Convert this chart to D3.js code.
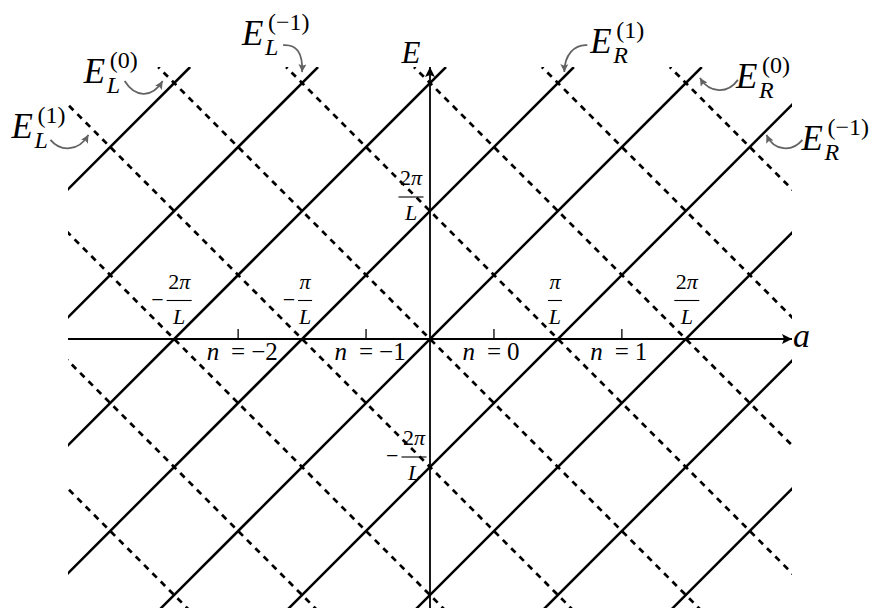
<!DOCTYPE html>
<html>
<head>
<meta charset="utf-8">
<script src="https://cdn.jsdelivr.net/npm/d3@7"></script>
<style>
  body { margin: 0; background: #fff; }
  svg { display: block; }
  svg text { font-family: "Liberation Serif", "DejaVu Serif", serif; fill: #000; }
  .it { font-style: italic; }
</style>
</head>
<body>
<svg width="876" height="608"></svg>
<script>
// shifts k in units of pi/L: solid lines E = 2(a - k), dashed lines E = -2(a - k)
const solidShifts = [-4, -3, -2, -1, 0, 1, 2, 3, 4];
const dashedShifts = [-4, -3, -2, -1, 0, 1, 2, 3, 4];
const aDomain = [-2.83, 2.83];
const eDomain = [-4.25, 4.25];

// labels on the a axis (where the lines cross it)
const aLabelVals = [-2, -1, 1, 2];
const aLabelNums = ["2", "", "", "2"];
const aLabelSigns = ["−", "−", "", ""];

// labels on the E axis
const eLabelVals = [2, -2];
const eLabelNums = ["2", "2"];
const eLabelSigns = ["", "−"];

// n markers half way between crossings
const nVals = [-1.5, -0.5, 0.5, 1.5];
const nLabels = ["−2", "−1", "0", "1"];

// branch annotations and the point (a, E) each arrow points at
const annSubs = ["L", "L", "L", "R", "R", "R"];
const annSups = ["(1)", "(0)", "(−1)", "(1)", "(0)", "(−1)"];
const annTips = [[-2.67, 3.19], [-2.09, 4.03], [-1.0, 4.17], [1.05, 4.17], [2.11, 4.08], [2.63, 3.19]];

// pixel offsets of text and curve relative to each arrow tip
const annLayout = [
  { text: [-77, 3],  curve: [[-38, 5], [-28, 17], [-10, 17]] },
  { text: [-79, 2],  curve: [[-38, 0], [-28, 16], [-11, 18]] },
  { text: [-60, -27], curve: [[-19, -27], [-6, -28], [1, -20]] },
  { text: [26, -19], curve: [[23, -27], [10, -28], [0, -17]] },
  { text: [36, 10],  curve: [[38, 2], [28, 16], [10, 16]] },
  { text: [35, 15],  curve: [[36, 5], [26, 17], [8, 17]] }
];
const aLabelDx = [5, 3, -3, 1];
const eLabelOff = [[-19, -14], [-16, -10]];

const svg = d3.select("svg");
const x = d3.scaleLinear().domain(aDomain).range([68, 792]);
const y = d3.scaleLinear().domain(eDomain).range([611, 67]);

const defs = svg.append("defs");
defs.append("clipPath").attr("id", "plot-clip")
  .append("rect")
  .attr("x", x(aDomain[0])).attr("y", y(eDomain[1]))
  .attr("width", x(aDomain[1]) - x(aDomain[0]))
  .attr("height", y(eDomain[0]) - y(eDomain[1]));

const addMarker = (id, color, w, h) => {
  defs.append("marker")
    .attr("id", id)
    .attr("viewBox", "0 0 10 10")
    .attr("refX", 10).attr("refY", 5)
    .attr("markerUnits", "userSpaceOnUse")
    .attr("markerWidth", w).attr("markerHeight", h)
    .attr("orient", "auto")
    .append("path")
    .attr("d", "M0,0 L10,5 L0,10 L2,5 z")
    .attr("fill", color);
};
addMarker("arrow-black", "#000", 11, 10);
addMarker("arrow-gray", "#636363", 9, 8);

const line = d3.line().x(d => x(d[0])).y(d => y(d[1]));

// axes
svg.append("path")
  .attr("d", line([[aDomain[0], 0], [aDomain[1], 0]]))
  .attr("stroke", "#000").attr("stroke-width", 1.8).attr("fill", "none")
  .attr("marker-end", "url(#arrow-black)");
svg.append("path")
  .attr("d", line([[0, eDomain[0]], [0, eDomain[1]]]))
  .attr("stroke", "#000").attr("stroke-width", 1.8).attr("fill", "none")
  .attr("marker-end", "url(#arrow-black)");

svg.append("text").attr("class", "it")
  .attr("x", x(aDomain[1]) + 1).attr("y", y(0) + 8)
  .attr("font-size", 34).text("a");
svg.append("text").attr("class", "it")
  .attr("x", x(0) - 19).attr("y", y(eDomain[1]) - 4)
  .attr("text-anchor", "middle")
  .attr("font-size", 31).text("E");

// branch lines
const lines = svg.append("g").attr("clip-path", "url(#plot-clip)");
lines.selectAll("path.solid")
  .data(solidShifts)
  .join("path")
  .attr("class", "solid")
  .attr("d", k => line(eDomain.map(e => [k + e / 2, e])))
  .attr("stroke", "#000").attr("stroke-width", 2.5).attr("fill", "none");
lines.selectAll("path.dashed")
  .data(dashedShifts)
  .join("path")
  .attr("class", "dashed")
  .attr("d", k => line(eDomain.map(e => [k - e / 2, e])))
  .attr("stroke", "#000").attr("stroke-width", 2.7).attr("fill", "none")
  .attr("stroke-dasharray", "6.2,5.6");

// fraction label  (sign) num pi / L
const drawFrac = (cx, barY, num, sign) => {
  const g = svg.append("g");
  const t = g.append("text")
    .attr("x", cx).attr("y", barY - 12)
    .attr("text-anchor", "middle")
    .attr("font-size", 22);
  if (num) t.append("tspan").text(num);
  t.append("tspan").attr("class", "it").text("π");
  const w = t.node().getComputedTextLength() + 3;
  g.append("line")
    .attr("x1", cx - w / 2).attr("x2", cx + w / 2)
    .attr("y1", barY).attr("y2", barY)
    .attr("stroke", "#000").attr("stroke-width", 1.1);
  g.append("text").attr("class", "it")
    .attr("x", cx).attr("y", barY + 23)
    .attr("text-anchor", "middle")
    .attr("font-size", 22).text("L");
  if (sign) {
    g.append("text")
      .attr("x", cx - w / 2 - 3).attr("y", barY + 6)
      .attr("text-anchor", "end")
      .attr("font-size", 22).text(sign);
  }
};

aLabelVals.forEach((v, i) => {
  drawFrac(x(v) + aLabelDx[i], y(0) - 38.5, aLabelNums[i], aLabelSigns[i]);
});
eLabelVals.forEach((v, i) => {
  drawFrac(x(0) + eLabelOff[i][0], y(v) + eLabelOff[i][1], eLabelNums[i], eLabelSigns[i]);
});

// n markers
const nG = svg.append("g");
nVals.forEach((v, i) => {
  const cx = x(v);
  nG.append("line")
    .attr("x1", cx).attr("x2", cx)
    .attr("y1", y(0) - 10).attr("y2", y(0))
    .attr("stroke", "#000").attr("stroke-width", 1.3);
  nG.append("text").attr("class", "it")
    .attr("x", cx - 19).attr("y", y(0) + 21)
    .attr("text-anchor", "end").attr("font-size", 25).text("n");
  nG.append("text")
    .attr("x", cx).attr("y", y(0) + 21)
    .attr("text-anchor", "middle").attr("font-size", 25).text("=");
  nG.append("text")
    .attr("x", cx + 13).attr("y", y(0) + 21)
    .attr("font-size", 25).text(nLabels[i]);
});

// annotations with curved gray arrows
const annG = svg.append("g");
annTips.forEach((tip, i) => {
  const tx = x(tip[0]), ty = y(tip[1]);
  const lay = annLayout[i];
  const [s, c1, c2] = lay.curve;
  annG.append("path")
    .attr("d", `M${tx + s[0]},${ty + s[1]} C${tx + c1[0]},${ty + c1[1]} ${tx + c2[0]},${ty + c2[1]} ${tx},${ty}`)
    .attr("stroke", "#636363").attr("stroke-width", 1.8).attr("fill", "none")
    .attr("marker-end", "url(#arrow-gray)");
  const ex = tx + lay.text[0], ey = ty + lay.text[1];
  annG.append("text").attr("class", "it")
    .attr("x", ex).attr("y", ey)
    .attr("font-size", 35).text("E");
  annG.append("text")
    .attr("x", ex + 26).attr("y", ey - 15)
    .attr("font-size", 24).text(annSups[i]);
  annG.append("text").attr("class", "it")
    .attr("x", ex + 23).attr("y", ey + 10)
    .attr("font-size", 24).text(annSubs[i]);
});
</script>
</body>
</html>
